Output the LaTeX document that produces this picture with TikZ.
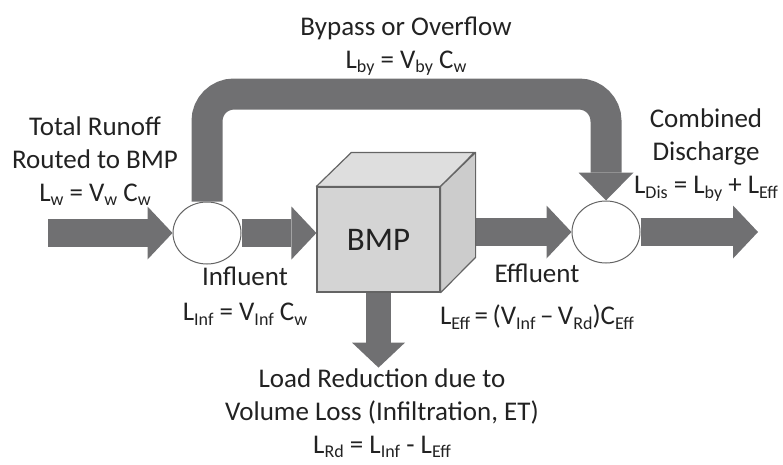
\documentclass[tikz,border=0pt]{standalone}
\usepackage{fontspec}
\setmainfont{Carlito}
\usepackage{tikz}
\usetikzlibrary{shapes.geometric,arrows.meta,positioning,calc}
\definecolor{flowgray}{RGB}{112,112,114}
\definecolor{edgegray}{RGB}{100,100,100}
\definecolor{boxfront}{RGB}{212,212,212}
\definecolor{boxtop}{RGB}{222,222,222}
\definecolor{boxside}{RGB}{204,204,204}
\definecolor{txt}{RGB}{34,34,34}
\newcommand{\sbs}[1]{\raisebox{-4.5pt}{\fontsize{18}{18}\selectfont #1}}

\begin{document}
\begin{tikzpicture}[x=1pt,y=-1pt,
    flow/.style={line width=28pt, draw=flowgray, -{Triangle[width=53pt,length=25pt,line width=0pt]}},
    junction/.style={ellipse, draw=edgegray, fill=white, line width=1pt, minimum width=68pt, minimum height=62pt, inner sep=0pt},
    bmpbox/.style={draw=edgegray, fill=boxfront, line width=1.2pt, minimum width=123pt, minimum height=105pt, inner sep=0pt, text=txt, font=\fontsize{33}{40}\selectfont},
    lbl/.style={align=center, text=txt, font=\fontsize{27}{33}\selectfont, inner sep=0pt}]
        \useasboundingbox (0,0) rectangle (783,464);

        % Junctions and treatment unit
        \node[junction] (split) at (207,233) {};
        \node[bmpbox] (bmp) at (378.5,239.5) {BMP};
        \node[junction] (merge) at (606,232) {};

        \coordinate (runin) at (48,233);
        \coordinate (runout) at (758,233);
        \coordinate (overtop) at (400,94);

        % Flows
        \draw[flow] (runin) -- (split.west);
        \draw[flow] (split.east) -- (bmp.west |- split);
        \draw[flow] (bmp.east |- merge) -- (merge.west);
        \draw[flow] (merge.east) -- (runout |- merge);
        \draw[flow, line width=25pt] (bmp.south) -- ++(0,75);
        \draw[flow, line width=31pt, rounded corners=27pt, -{Triangle[width=55pt,length=28pt,line width=0pt]}]
            (split.north) |- (overtop) -| (merge.north);

        % Box top and side faces
        \draw[edgegray, fill=boxtop, line width=1.2pt, line join=round] (bmp.north west) -- ++(35,-34) -- ++(123,0) -- (bmp.north east) -- cycle;
        \draw[edgegray, fill=boxside, line width=1.2pt, line join=round] (bmp.north east) -- ++(35,-34) -- ++(0,105) -- (bmp.south east) -- cycle;

        % Labels
        \node[lbl] (runofftext) at (95,161) {Total Runoff\\Routed to BMP\\L\sbs{w} = V\sbs{w} C\sbs{w}};
        \node[lbl] (bypasstext) at (406,46) {Bypass or Overflow\\L\sbs{by} = V\sbs{by} C\sbs{w}};
        \node[lbl] (influenttext) at (245,296) {Influent\\[2pt]L\sbs{Inf} = V\sbs{Inf} C\sbs{w}};
        \node[lbl] (effluenttext) at (537,297) {Effluent\\[9pt]L\sbs{Eff}\,=\,(V\sbs{Inf}\,\textendash\,V\sbs{Rd})C\sbs{Eff}};
        \node[lbl] (dischargetext) at (706,155) {Combined\\Discharge\\L\sbs{Dis} = L\sbs{by} + L\sbs{Eff}};
        \node[lbl] (reductiontext) at (382,413) {Load Reduction due to\\Volume Loss (Infiltration, ET)\\L\sbs{Rd} = L\sbs{Inf} - L\sbs{Eff}};
\end{tikzpicture}
\end{document}
